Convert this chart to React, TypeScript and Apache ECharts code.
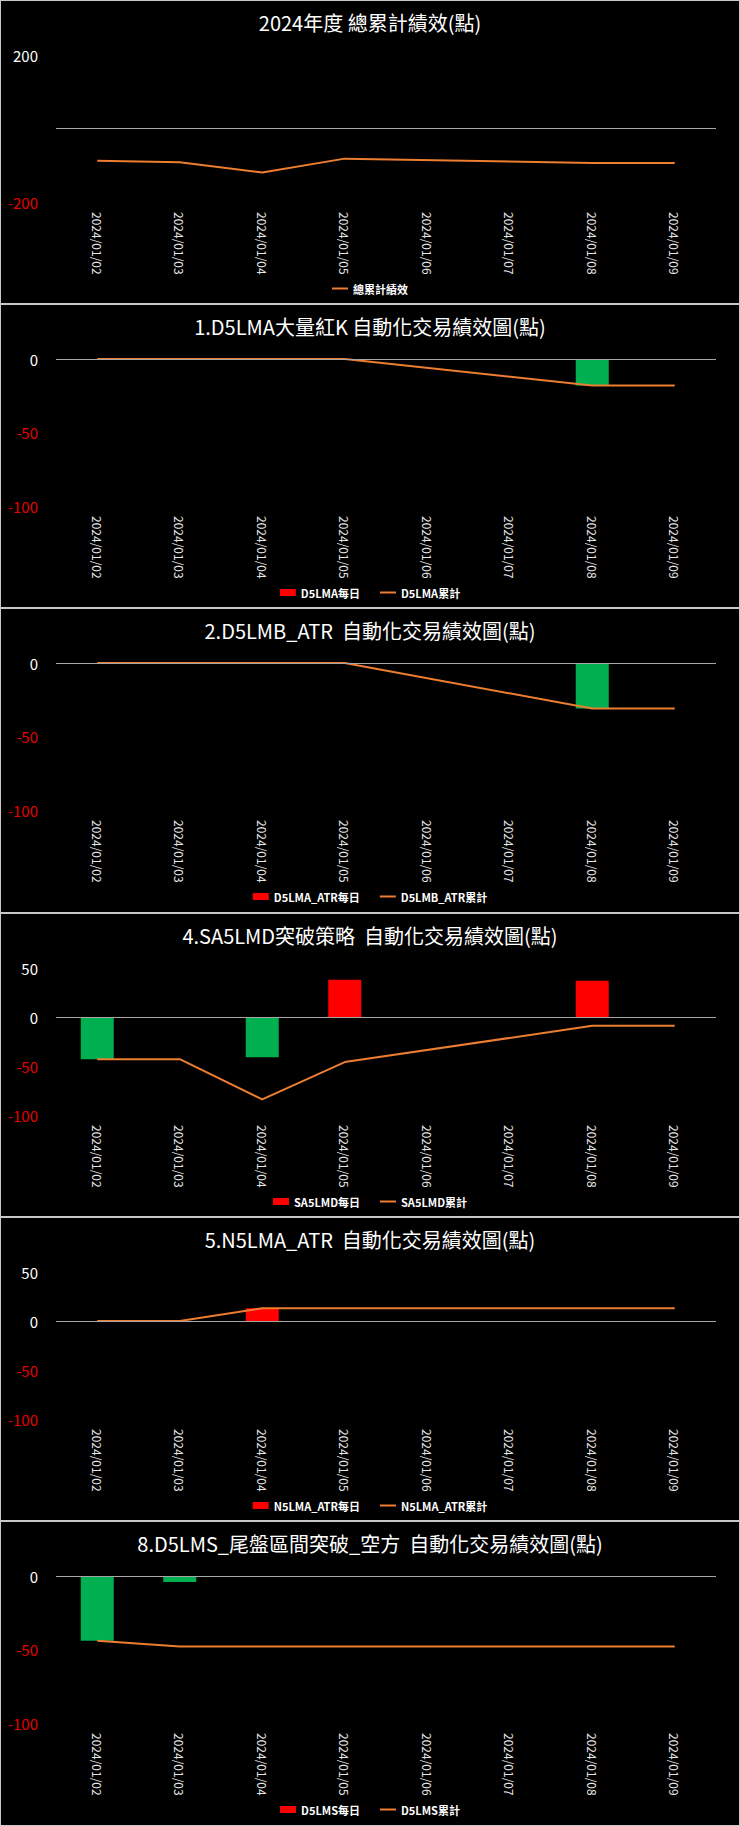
import React, { useEffect, useRef } from "react";
import * as echarts from "echarts";

const dates = [
  "2024/01/02",
  "2024/01/03",
  "2024/01/04",
  "2024/01/05",
  "2024/01/06",
  "2024/01/07",
  "2024/01/08",
  "2024/01/09",
];

const totalCum = [-88, -92, -120, -82, null, null, -94, -94];

const d5lmaDaily = [0, 0, 0, 0, null, null, -18, 0];
const d5lmaCum = [0, 0, 0, 0, null, null, -18, -18];

const d5lmbDaily = [0, 0, 0, 0, null, null, -31, 0];
const d5lmbCum = [0, 0, 0, 0, null, null, -31, -31];

const sa5lmdDaily = [-43, 0, -41, 38, null, null, 37, 0];
const sa5lmdCum = [-43, -43, -84, -46, null, null, -9, -9];

const n5lmaDaily = [0, 0, 13, 0, null, null, 0, 0];
const n5lmaCum = [0, 0, 13, 13, null, null, 13, 13];

const d5lmsDaily = [-44, -4, 0, 0, null, null, 0, 0];
const d5lmsCum = [-44, -48, -48, -48, null, null, -48, -48];

type PanelDef = {
  title: string;
  barName?: string;
  barData?: (number | null)[];
  lineName: string;
  lineData: (number | null)[];
  yMin: number;
  yMax: number;
  interval: number;
  hideZeroLabel?: boolean;
  height: number;
};

const FONT = '"Noto Sans CJK TC", "Noto Sans", sans-serif';

const panels: PanelDef[] = [
  {
    title: "2024年度 總累計績效(點)",
    lineName: "總累計績效",
    lineData: totalCum,
    yMin: -200,
    yMax: 200,
    interval: 200,
    hideZeroLabel: true,
    height: 304,
  },
  {
    title: "1.D5LMA大量紅K 自動化交易績效圖(點)",
    barName: "D5LMA每日",
    barData: d5lmaDaily,
    lineName: "D5LMA累計",
    lineData: d5lmaCum,
    yMin: -100,
    yMax: 0,
    interval: 50,
    height: 304,
  },
  {
    title: "2.D5LMB_ATR  自動化交易績效圖(點)",
    barName: "D5LMA_ATR每日",
    barData: d5lmbDaily,
    lineName: "D5LMB_ATR累計",
    lineData: d5lmbCum,
    yMin: -100,
    yMax: 0,
    interval: 50,
    height: 305,
  },
  {
    title: "4.SA5LMD突破策略  自動化交易績效圖(點)",
    barName: "SA5LMD每日",
    barData: sa5lmdDaily,
    lineName: "SA5LMD累計",
    lineData: sa5lmdCum,
    yMin: -100,
    yMax: 50,
    interval: 50,
    height: 304,
  },
  {
    title: "5.N5LMA_ATR  自動化交易績效圖(點)",
    barName: "N5LMA_ATR每日",
    barData: n5lmaDaily,
    lineName: "N5LMA_ATR累計",
    lineData: n5lmaCum,
    yMin: -100,
    yMax: 50,
    interval: 50,
    height: 304,
  },
  {
    title: "8.D5LMS_尾盤區間突破_空方  自動化交易績效圖(點)",
    barName: "D5LMS每日",
    barData: d5lmsDaily,
    lineName: "D5LMS累計",
    lineData: d5lmsCum,
    yMin: -100,
    yMax: 0,
    interval: 50,
    height: 305,
  },
];

function buildOption(p: PanelDef) {
  const inner = p.height - 2;
  const zeroLine = {
    silent: true,
    symbol: ["none", "none"],
    label: { show: false },
    lineStyle: { color: "#a6a6a6", width: 1, type: "solid" },
    data: [{ yAxis: 0 }],
  };
  const series: any[] = [];
  const legendData: any[] = [];
  if (p.barData) {
    series.push({
      name: p.barName,
      type: "bar",
      barWidth: "40%",
      itemStyle: { color: "#ff0000" },
      data: p.barData.map((v) =>
        v !== null && v < 0 ? { value: v, itemStyle: { color: "#00b050" } } : v
      ),
      markLine: zeroLine,
      z: 2,
    });
    legendData.push({ name: p.barName, icon: "rect", itemStyle: { color: "#ff0000" } });
  }
  series.push({
    name: p.lineName,
    type: "line",
    data: p.lineData,
    connectNulls: true,
    symbol: "none",
    showSymbol: false,
    lineStyle: { color: "#ed7d31", width: 2 },
    itemStyle: { color: "#ed7d31" },
    markLine: p.barData ? undefined : zeroLine,
    z: 3,
  });
  legendData.push({
    name: p.lineName,
    icon: "path://M0,0L32,0L32,4L0,4Z",
    itemStyle: { color: "#ed7d31" },
  });

  return {
    animation: false,
    backgroundColor: "#000000",
    title: {
      text: p.title,
      left: "center",
      top: 6,
      textStyle: {
        color: "#ffffff",
        fontSize: 20,
        fontWeight: "normal",
        fontFamily: FONT,
      },
    },
    legend: {
      data: legendData,
      left: "center",
      top: 277,
      itemWidth: 16,
      itemHeight: 7,
      itemGap: 20,
      textStyle: {
        color: "#ffffff",
        fontSize: 11,
        fontWeight: "bold",
        fontFamily: FONT,
      },
    },
    grid: {
      left: 55,
      right: 23,
      top: 54,
      bottom: inner - 201,
    },
    xAxis: {
      type: "category",
      data: dates,
      boundaryGap: true,
      axisLine: { show: false },
      axisTick: { show: false },
      splitLine: { show: false },
      axisLabel: {
        rotate: -90,
        margin: 10,
        color: "#e6e6e6",
        fontSize: 12,
        fontFamily: FONT,
        interval: 0,
      },
    },
    yAxis: {
      type: "value",
      min: p.yMin,
      max: p.yMax,
      interval: p.interval,
      axisLine: { show: false },
      axisTick: { show: false },
      splitLine: { show: false },
      axisLabel: {
        margin: 18,
        fontSize: 15,
        fontFamily: FONT,
        color: (v: any) => (Number(v) < 0 ? "#e60000" : "#ffffff"),
        formatter: (v: number) => (p.hideZeroLabel && v === 0 ? "" : String(v)),
      },
    },
    series,
  };
}

function Panel({ def }: { def: PanelDef }) {
  const ref = useRef<HTMLDivElement>(null);
  useEffect(() => {
    if (!ref.current) return;
    const chart = echarts.init(ref.current, undefined, { renderer: "svg" });
    chart.setOption(buildOption(def) as any);
    return () => chart.dispose();
  }, [def]);
  return (
    <div
      style={{
        width: 740,
        height: def.height,
        boxSizing: "border-box",
        border: "1px solid #c8c8c8",
        background: "#000",
      }}
    >
      <div ref={ref} style={{ width: 738, height: def.height - 2 }} />
    </div>
  );
}

export default function App() {
  useEffect(() => {
    document.body.style.margin = "0";
    document.body.style.background = "#000";
  }, []);
  return (
    <div style={{ width: 740, background: "#000" }}>
      {panels.map((p, i) => (
        <Panel key={i} def={p} />
      ))}
    </div>
  );
}
